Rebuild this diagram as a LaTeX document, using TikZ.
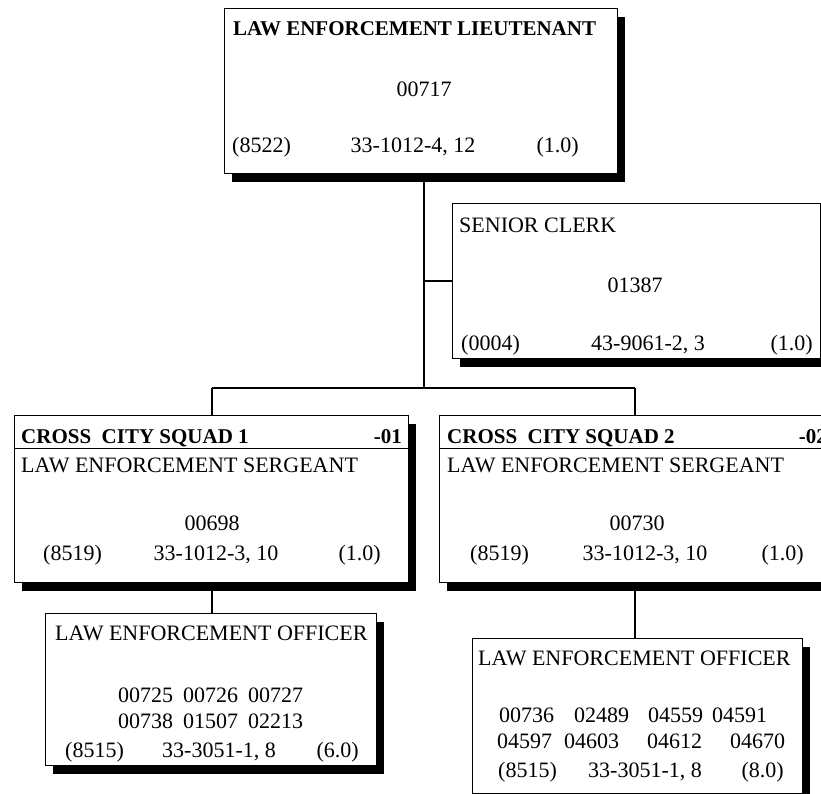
\documentclass[tikz,border=0pt]{standalone}
\usepackage{fontspec}
\setmainfont{Liberation Serif}
\usetikzlibrary{shadows,calc}

\tikzset{
  posbox/.style={draw, line width=1.4pt, fill=white, inner sep=0pt, anchor=north west,
    drop shadow={shadow xshift=7pt, shadow yshift=-8pt, fill=black, opacity=1}},
  conn/.style={line width=1.8pt},
  rule/.style={line width=0.9pt},
  lbl/.style={inner sep=0pt, font=\fontsize{22}{26}\selectfont},
  hdr/.style={inner sep=0pt, font=\fontsize{21}{25}\selectfont\bfseries},
}

\begin{document}
\begin{tikzpicture}[x=1pt, y=-1pt]
  \useasboundingbox (0,0) rectangle (821,794);
  \clip (0,0) rectangle (821,794);
  \fill[white] (0,0) rectangle (821,794);

  % junction points of the connector tree
  \coordinate (spine) at (424,388);
  \coordinate (busL) at (212,388);
  \coordinate (busR) at (635,388);

  % position boxes
  \node[posbox, minimum width=393pt, minimum height=165pt] (lt) at (224,8) {};
  \node[posbox, minimum width=368pt, minimum height=155pt] (clerk) at (452,203) {};
  \node[posbox, minimum width=394pt, minimum height=167pt] (sgtA) at (14,415) {};
  \node[posbox, minimum width=394pt, minimum height=167pt] (sgtB) at (439,415) {};
  \node[posbox, minimum width=331pt, minimum height=152pt] (offA) at (45,613) {};
  \node[posbox, minimum width=330pt, minimum height=155pt] (offB) at (472,638) {};

  % connectors
  \draw[conn] (lt.south -| spine) -- (spine);
  \draw[conn] (spine |- clerk.west) -- (clerk.west);
  \draw[conn] (busL) -- (busR);
  \draw[conn] (busL) -- (busL |- sgtA.north);
  \draw[conn] (busR) -- (busR |- sgtB.north);
  \draw[conn] ($(sgtA.south -| busL)+(0,8)$) -- (busL |- offA.north);
  \draw[conn] ($(sgtB.south -| busR)+(0,8)$) -- (busR |- offB.north);

  % header rules of the squad boxes
  \draw[rule] ($(sgtA.north west)+(0,33)$) -- ($(sgtA.north east)+(0,33)$);
  \draw[rule] ($(sgtB.north west)+(0,33)$) -- ($(sgtB.north east)+(0,33)$);

  % lieutenant
  \node[hdr, anchor=base west] (ltT) at (233,36) {LAW ENFORCEMENT LIEUTENANT};
  \node[lbl, anchor=base] (ltN) at (424,97) {00717};
  \node[lbl, anchor=base west] (ltA) at (232,153) {(8522)};
  \node[lbl, anchor=base] (ltB) at (413,153) {33-1012-4, 12};
  \node[lbl, anchor=base east] (ltC) at (579,153) {(1.0)};

  % senior clerk
  \node[lbl, anchor=base west] (clT) at (459,233) {SENIOR CLERK};
  \node[lbl, anchor=base] (clN) at (635,292) {01387};
  \node[lbl, anchor=base west] (clA) at (461,350) {(0004)};
  \node[lbl, anchor=base] (clB) at (648,350) {43-9061-2, 3};
  \node[lbl, anchor=base east] (clC) at (813,350) {(1.0)};

  % squad 1
  \node[hdr, anchor=base west] (aH) at (21,443) {CROSS\ \ CITY SQUAD 1};
  \node[hdr, anchor=base east] (aK) at (402,443) {-01};
  \node[lbl, anchor=base west] (aT) at (21,472) {LAW ENFORCEMENT SERGEANT};
  \node[lbl, anchor=base] (aN) at (212,530) {00698};
  \node[lbl, anchor=base west] (aA) at (43,560) {(8519)};
  \node[lbl, anchor=base] (aB) at (216,560) {33-1012-3, 10};
  \node[lbl, anchor=base east] (aC) at (381,560) {(1.0)};

  % squad 2
  \node[hdr, anchor=base west] (bH) at (447,443) {CROSS\ \ CITY SQUAD 2};
  \node[hdr, anchor=base east] (bK) at (827,443) {-02};
  \node[lbl, anchor=base west] (bT) at (447,472) {LAW ENFORCEMENT SERGEANT};
  \node[lbl, anchor=base] (bN) at (637,530) {00730};
  \node[lbl, anchor=base west] (bA) at (470,560) {(8519)};
  \node[lbl, anchor=base] (bB) at (645,560) {33-1012-3, 10};
  \node[lbl, anchor=base east] (bC) at (804,560) {(1.0)};

  % officers, squad 1
  \node[lbl, anchor=base west] (oaT) at (55,640) {LAW ENFORCEMENT OFFICER};
  \node[lbl, anchor=base west] (oa1) at (118,702) {00725};
  \node[lbl, anchor=base west] (oa2) at (183,702) {00726};
  \node[lbl, anchor=base west] (oa3) at (248,702) {00727};
  \node[lbl, anchor=base west] (oa4) at (118,728) {00738};
  \node[lbl, anchor=base west] (oa5) at (183,728) {01507};
  \node[lbl, anchor=base west] (oa6) at (248,728) {02213};
  \node[lbl, anchor=base west] (oaA) at (65,757) {(8515)};
  \node[lbl, anchor=base] (oaB) at (219,757) {33-3051-1, 8};
  \node[lbl, anchor=base east] (oaC) at (359,757) {(6.0)};

  % officers, squad 2
  \node[lbl, anchor=base west] (obT) at (478,665) {LAW ENFORCEMENT OFFICER};
  \node[lbl, anchor=base west] (ob1) at (499,722) {00736};
  \node[lbl, anchor=base west] (ob2) at (574,722) {02489};
  \node[lbl, anchor=base west] (ob3) at (648,722) {04559};
  \node[lbl, anchor=base west] (ob4) at (712,722) {04591};
  \node[lbl, anchor=base west] (ob5) at (497,748) {04597};
  \node[lbl, anchor=base west] (ob6) at (564,748) {04603};
  \node[lbl, anchor=base west] (ob7) at (647,748) {04612};
  \node[lbl, anchor=base west] (ob8) at (730,748) {04670};
  \node[lbl, anchor=base west] (obA) at (498,777) {(8515)};
  \node[lbl, anchor=base] (obB) at (645,777) {33-3051-1, 8};
  \node[lbl, anchor=base east] (obC) at (784,777) {(8.0)};
\end{tikzpicture}
\end{document}
